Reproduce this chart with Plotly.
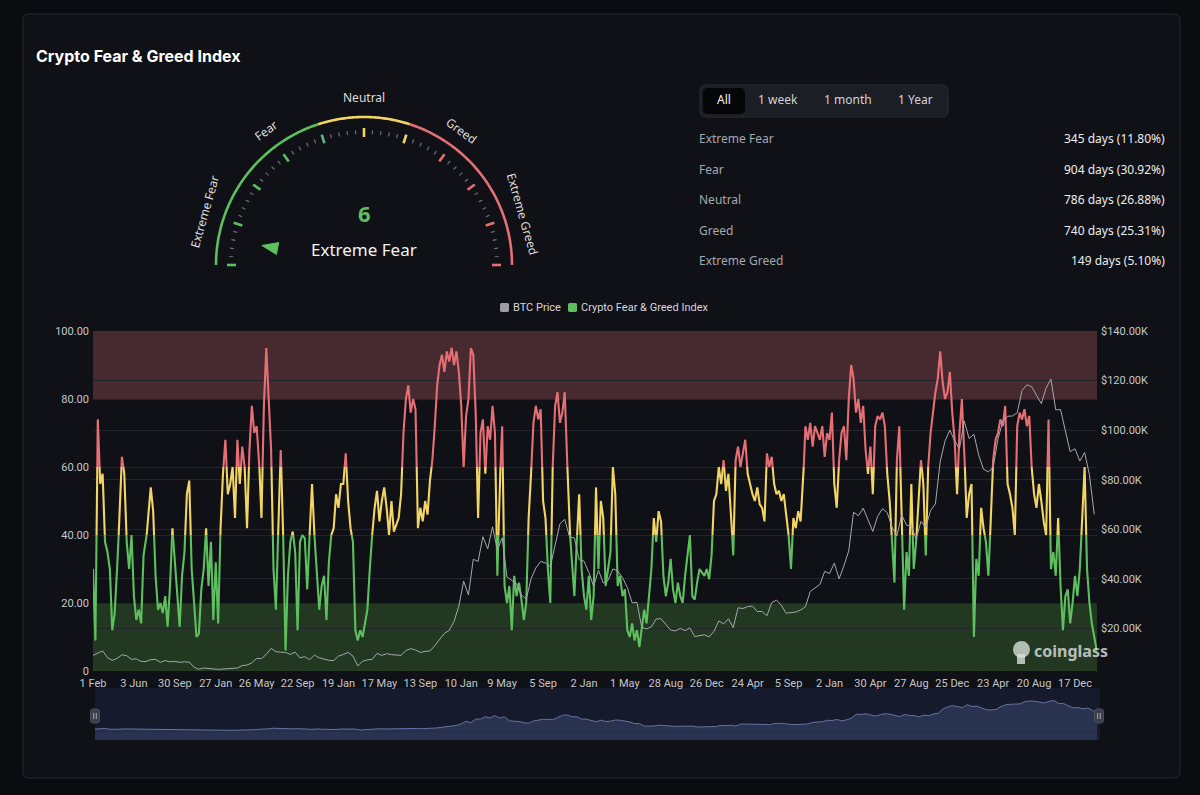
import math
import plotly.graph_objects as go

W, H = 1200, 795
def X(p): return p / W
def Y(p): return 1 - p / H

# ---------------- data ----------------
tick_labels = ['1 Feb', '3 Jun', '30 Sep', '27 Jan', '26 May', '22 Sep', '19 Jan', '17 May',
               '13 Sep', '10 Jan', '9 May', '5 Sep', '2 Jan', '1 May', '28 Aug', '26 Dec',
               '24 Apr', '5 Sep', '2 Jan', '30 Apr', '27 Aug', '25 Dec', '23 Apr', '20 Aug', '17 Dec']
TICK_STEP = 119      # categories (days) between axis labels
N_CAT = 2921         # number of daily categories
FG_STEP = 7          # index sampled weekly
BTC_STEP = 14        # price sampled bi-weekly

fg_values = [
    30, 9, 74, 55, 58, 38, 35, 30, 12, 17,
    30, 45, 63, 58, 38, 30, 40, 22, 15, 18,
    14, 34, 38, 45, 54, 47, 28, 18, 20, 17,
    22, 13, 25, 42, 32, 25, 13, 28, 35, 52,
    56, 30, 20, 10, 11, 24, 30, 42, 25, 38,
    15, 32, 14, 42, 58, 68, 52, 55, 60, 45,
    68, 55, 66, 60, 42, 65, 78, 70, 72, 62,
    45, 78, 95, 82, 65, 30, 18, 42, 65, 40,
    6, 28, 38, 41, 35, 12, 38, 40, 39, 24,
    40, 55, 40, 30, 18, 25, 28, 15, 32, 40,
    42, 52, 48, 55, 55, 64, 50, 42, 38, 12,
    9, 12, 10, 14, 18, 30, 40, 48, 53, 44,
    50, 54, 48, 40, 50, 41, 43, 45, 52, 70,
    80, 84, 76, 80, 77, 42, 48, 44, 50, 46,
    56, 62, 72, 84, 90, 93, 88, 94, 91, 95,
    90, 94, 88, 78, 60, 75, 80, 95, 93, 76,
    45, 70, 74, 58, 72, 68, 78, 70, 28, 55,
    72, 25, 20, 25, 12, 28, 22, 26, 21, 15,
    20, 45, 58, 73, 78, 74, 77, 50, 45, 30,
    20, 60, 78, 82, 73, 76, 82, 62, 42, 33,
    22, 38, 52, 30, 22, 18, 28, 15, 22, 54,
    30, 50, 45, 25, 30, 35, 60, 52, 25, 28,
    22, 24, 12, 10, 14, 9, 12, 7, 12, 18,
    14, 22, 30, 45, 38, 47, 44, 28, 22, 26,
    33, 24, 20, 26, 22, 20, 28, 34, 40, 22,
    21, 26, 30, 29, 28, 30, 27, 34, 50, 52,
    60, 55, 62, 53, 58, 48, 34, 62, 66, 60,
    64, 68, 58, 55, 52, 50, 54, 49, 48, 44,
    64, 60, 63, 55, 52, 53, 50, 52, 46, 40,
    30, 45, 42, 47, 44, 55, 72, 68, 73, 66,
    72, 70, 68, 72, 63, 70, 68, 76, 55, 48,
    62, 70, 72, 62, 80, 90, 86, 76, 80, 73,
    78, 65, 58, 66, 52, 72, 75, 74, 76, 72,
    58, 50, 38, 26, 62, 72, 45, 18, 35, 28,
    55, 30, 38, 50, 62, 55, 34, 60, 70, 76,
    82, 86, 94, 85, 80, 82, 88, 76, 68, 52,
    70, 80, 65, 45, 52, 55, 10, 33, 28, 48,
    42, 38, 28, 44, 62, 68, 70, 74, 72, 78,
    55, 52, 48, 40, 72, 76, 74, 77, 72, 75,
    60, 52, 48, 55, 50, 44, 40, 74, 30, 35,
    28, 45, 25, 12, 22, 24, 14, 20, 28, 22,
    30, 45, 60, 30, 20, 14, 10, 6,
]

btc_prices = [
    # 2018
    9100, 10000, 10900, 8200, 7100, 7900, 9300, 9000, 7500, 7700, 6700, 6600,
    7400, 7500, 6300, 7000, 6500, 6700, 6300, 6500, 6400, 4300, 3500, 4000,
    # 2019
    3800, 3600, 3450, 3600, 3800, 3900, 4000, 5000, 5200, 6100, 7900, 7800, 9500,
    11900, 10600, 10400, 10300, 9500, 10400, 8100, 8600, 7400, 9200, 8100, 7500, 7100,
    # 2020
    7000, 8800, 9500, 10300, 8800, 4900, 6700, 7300, 7500, 9900, 9100, 9800, 9400, 9100,
    9100, 11100, 11800, 11300, 10300, 10700, 10900, 13000, 15600, 18000, 19200, 22800, 29000,
    # 2021
    39000, 33500, 47900, 47000, 57000, 52000, 61000, 51700, 56500, 40700, 39200, 38000, 33500,
    31800, 40000, 44400, 47000, 46400, 44900, 53800, 62200, 64000, 56900, 56500, 47700, 47100,
    # 2022
    42600, 37000, 43500, 38300, 39400, 44000, 43200, 40500, 36500, 30300, 30500, 20400, 19800,
    20600, 23800, 23900, 21500, 19300, 19000, 20000, 19100, 20200, 16700, 17000, 17400, 16600,
    # 2023
    18800, 23000, 21800, 23900, 20300, 28300, 28000, 28800, 29000, 26800, 26800, 25100, 30400,
    31400, 29300, 26100, 26200, 26600, 27400, 28700, 34900, 36200, 37700, 43000, 42100,
    # 2024
    46300, 40000, 45300, 51300, 66900, 65500, 68500, 63500, 59100, 65200, 68300, 66700, 60800,
    57300, 65800, 61700, 61200, 56100, 63200, 60700, 67600, 70200, 87300, 95600, 100000, 95700,
    # 2025
    92500, 103700, 96600, 98300, 89900, 84200, 83200, 84900, 96500, 103500, 105600, 105700, 107000,
    116000, 118300, 117500, 114200, 110700, 117000, 120600, 108200, 108300, 99700, 91300, 92500, 87500,
    # 2026
    91000, 82000, 66000,
]

zone_names = ['Extreme Fear', 'Fear', 'Neutral', 'Greed', 'Extreme Greed']
zone_days = [345, 904, 786, 740, 149]
zone_pct = [11.80, 30.92, 26.88, 25.31, 5.10]
current_value = 6
current_label = 'Extreme Fear'
range_buttons = ['All', '1 week', '1 month', '1 Year']
btc_ticks = [20000, 40000, 60000, 80000, 100000, 120000, 140000]
fg_ticks = [0, 20, 40, 60, 80, 100]

# ---------------- styles ----------------
OUTER_BG = '#0b0c10'
PANEL_BG = '#0f1116'
GREEN = '#5dbf5d'
YELLOW = '#f2d562'
RED = '#e66e75'
GRID = '#22252c'
AXIS_TXT = '#c4c7cd'
FONT = 'Noto Sans'

fg_x = [i * FG_STEP for i in range(len(fg_values))]
btc_x = [j * BTC_STEP for j in range(len(btc_prices))]


def band_path(xs, ys, lo, hi):
    ox, oy, last = [], [], None
    for k in range(len(xs) - 1):
        x0, y0, x1, y1 = xs[k], ys[k], xs[k + 1], ys[k + 1]
        if y0 == y1:
            if lo <= y0 <= hi:
                t0, t1 = 0.0, 1.0
            else:
                continue
        else:
            ta = (lo - y0) / (y1 - y0)
            tb = (hi - y0) / (y1 - y0)
            t0 = max(0.0, min(ta, tb))
            t1 = min(1.0, max(ta, tb))
            if t1 <= t0:
                continue
        pa = (x0 + t0 * (x1 - x0), y0 + t0 * (y1 - y0))
        pb = (x0 + t1 * (x1 - x0), y0 + t1 * (y1 - y0))
        if last is None or abs(last[0] - pa[0]) > 1e-9 or abs(last[1] - pa[1]) > 1e-9:
            if ox:
                ox.append(None)
                oy.append(None)
            ox.append(pa[0])
            oy.append(pa[1])
        ox.append(pb[0])
        oy.append(pb[1])
        last = pb
    return ox, oy


fig = go.Figure()

# BTC price line (right axis)
fig.add_trace(go.Scatter(x=btc_x, y=btc_prices, mode='lines', yaxis='y2',
                         line=dict(color='#a4a7ae', width=1), hoverinfo='skip', showlegend=False))

# Fear & Greed index coloured by band
for lo, hi, col in [(0, 40, GREEN), (40, 60, YELLOW), (60, 100, RED)]:
    bx, by = band_path(fg_x, fg_values, lo, hi)
    fig.add_trace(go.Scatter(x=bx, y=by, mode='lines', line=dict(color=col, width=2.1),
                             connectgaps=False, hoverinfo='skip', showlegend=False))

# navigator
fig.add_trace(go.Scatter(x=btc_x, y=btc_prices, mode='lines', xaxis='x2', yaxis='y3',
                         fill='tozeroy', fillcolor='#29324f',
                         line=dict(color='#6672a3', width=1), hoverinfo='skip', showlegend=False))

shapes = []


def rrect_path(x0, y0, x1, y1, r):
    pts = [('M', x0 + r, y0), ('L', x1 - r, y0), ('Q', x1, y0, x1, y0 + r), ('L', x1, y1 - r),
           ('Q', x1, y1, x1 - r, y1), ('L', x0 + r, y1), ('Q', x0, y1, x0, y1 - r),
           ('L', x0, y0 + r), ('Q', x0, y0, x0 + r, y0)]
    s = ''
    for p in pts:
        c = p[0]
        coords = p[1:]
        s += c + ' ' + ' '.join(f'{X(coords[i]):.5f},{Y(coords[i + 1]):.5f}' for i in range(0, len(coords), 2)) + ' '
    return s + 'Z'


# panel
shapes.append(dict(type='path', xref='paper', yref='paper', layer='below',
                   path=rrect_path(23, 14, 1180, 778, 6), fillcolor=PANEL_BG,
                   line=dict(color='#262930', width=1)))
# navigator background
shapes.append(dict(type='rect', xref='paper', yref='paper', layer='below',
                   x0=X(95), x1=X(1100), y0=Y(740), y1=Y(688), fillcolor='#151b2d', line=dict(width=0)))
# navigator base below price 0
shapes.append(dict(type='rect', xref='x2', yref='y3', layer='below', x0=0, x1=btc_x[-1],
                   y0=-34000, y1=0, fillcolor='#29324f', line=dict(width=0)))
# zone bands
shapes.append(dict(type='rect', xref='x', yref='y', layer='below', x0=0, x1=N_CAT - 1,
                   y0=80, y1=100, fillcolor='#472a30', line=dict(width=0)))
shapes.append(dict(type='rect', xref='x', yref='y', layer='below', x0=0, x1=N_CAT - 1,
                   y0=0, y1=20, fillcolor='#223821', line=dict(width=0)))
shapes.append(dict(type='line', xref='x', yref='y', x0=0, x1=N_CAT - 1, y0=0, y1=0,
                   line=dict(color='#3b4a3b', width=1, dash='dot')))

# navigator handles
for hx in (95, 1099):
    shapes.append(dict(type='path', xref='paper', yref='paper',
                       path=rrect_path(hx - 4.5, 709, hx + 4.5, 723, 2.5),
                       fillcolor='#3a3f4b', line=dict(color='#4a505c', width=1)))
    for dx in (-1.3, 1.3):
        shapes.append(dict(type='line', xref='paper', yref='paper', x0=X(hx + dx), x1=X(hx + dx),
                           y0=Y(713), y1=Y(719), line=dict(color='#a3a8b2', width=1)))

# ---------------- gauge ----------------
CX, CY, R = 364, 265, 148


def gpt(v, r):
    th = math.pi * (1 - v / 100.0)
    return CX + r * math.cos(th), CY - r * math.sin(th)


def arc_path(v0, v1, r, n=60):
    s = ''
    for k in range(n + 1):
        v = v0 + (v1 - v0) * k / n
        px, py = gpt(v, r)
        s += ('M ' if k == 0 else 'L ') + f'{X(px):.5f},{Y(py):.5f} '
    return s


for v0, v1, col in [(0, 40, GREEN), (40, 60, YELLOW), (60, 100, RED)]:
    shapes.append(dict(type='path', xref='paper', yref='paper', path=arc_path(v0, v1, R),
                       line=dict(color=col, width=2.6)))

for v in range(0, 101, 2):
    if v % 10 == 0:
        if v < 40:
            col = GREEN
        elif v == 40:
            col = '#5fb08c'
        elif v <= 60:
            col = YELLOW
        else:
            col = RED
        r0, r1, w = 128, 137, 2.6
    else:
        col, r0, r1, w = '#6c6f77', 131, 135, 1.2
    ax0, ay0 = gpt(v, r0)
    ax1, ay1 = gpt(v, r1)
    shapes.append(dict(type='line', xref='paper', yref='paper', x0=X(ax0), y0=Y(ay0),
                       x1=X(ax1), y1=Y(ay1), line=dict(color=col, width=w)))

# pointer triangle
tip = gpt(current_value, 104)
th = math.pi * (1 - current_value / 100.0)
bx_, by_ = gpt(current_value, 88)
nx, ny = math.sin(th), math.cos(th)
b1 = (bx_ + 6 * nx, by_ + 6 * ny)
b2 = (bx_ - 6 * nx, by_ - 6 * ny)
shapes.append(dict(type='path', xref='paper', yref='paper',
                   path=f'M {X(tip[0]):.5f},{Y(tip[1]):.5f} L {X(b1[0]):.5f},{Y(b1[1]):.5f} '
                        f'L {X(b2[0]):.5f},{Y(b2[1]):.5f} Z',
                   fillcolor=GREEN, line=dict(color=GREEN, width=1)))

# range buttons
shapes.append(dict(type='path', xref='paper', yref='paper', path=rrect_path(700, 85, 948, 117, 6),
                   fillcolor='#1b1e25', line=dict(color='#2a2d35', width=1)))
shapes.append(dict(type='path', xref='paper', yref='paper', path=rrect_path(703, 88, 745, 114, 5),
                   fillcolor='#050608', line=dict(width=0)))

# legend squares
shapes.append(dict(type='path', xref='paper', yref='paper', path=rrect_path(500, 303, 509, 312, 1.5),
                   fillcolor='#9b9ea6', line=dict(width=0)))
shapes.append(dict(type='path', xref='paper', yref='paper', path=rrect_path(568, 303, 577, 312, 1.5),
                   fillcolor=GREEN, line=dict(width=0)))

# watermark logo (rough)
shapes.append(dict(type='circle', xref='paper', yref='paper', x0=X(1013), x1=X(1030), y0=Y(658), y1=Y(641),
                   fillcolor='rgba(215,222,215,0.8)', line=dict(width=0)))
shapes.append(dict(type='rect', xref='paper', yref='paper', x0=X(1017), x1=X(1025), y0=Y(664), y1=Y(654),
                   fillcolor='rgba(215,222,215,0.8)', line=dict(width=0)))

ann = []


def txt(x, y, s, size=12, color='#e6e6e6', anchor='center', angle=0, family=FONT, bold=False):
    ann.append(dict(x=X(x), y=Y(y), xref='paper', yref='paper', text=(f'<b>{s}</b>' if bold else s),
                    showarrow=False, xanchor=anchor, yanchor='middle', textangle=angle,
                    borderpad=0, font=dict(size=size, color=color, family=family)))


txt(35, 56, 'Crypto Fear &amp; Greed Index', size=16, color='#ffffff', anchor='left', family='Inter', bold=True)

# gauge labels
txt(205, 212, 'Extreme Fear', size=12, color='#dcdcdc', angle=-74)
txt(266, 131, 'Fear', size=12, color='#dcdcdc', angle=-36)
txt(364, 98, 'Neutral', size=12, color='#dcdcdc')
txt(461, 131, 'Greed', size=12, color='#dcdcdc', angle=36)
txt(522, 214, 'Extreme Greed', size=12, color='#dcdcdc', angle=74)
txt(364, 213, str(current_value), size=22, color=GREEN, bold=True)
txt(364, 250, current_label, size=17, color='#f2f2f2')

# buttons
for label, bxc in zip(range_buttons, [724, 778, 848, 915]):
    txt(bxc, 100, label, size=12, color='#f0f0f0' if label == 'All' else '#d0d3d8')

# stats
for k, (nm, d, p) in enumerate(zip(zone_names, zone_days, zone_pct)):
    yy = 139 + k * 30.5
    txt(698, yy, nm, size=12, color='#a4a8b0', anchor='left')
    txt(1166, yy, f'{d} days ({p:.2f}%)', size=12, color='#ececec', anchor='right')

# legend text
txt(512, 307.5, 'BTC Price', size=11, color='#d4d6db', anchor='left', family='Roboto')
txt(580, 307.5, 'Crypto Fear &amp; Greed Index', size=11, color='#d4d6db', anchor='left', family='Roboto')

# watermark text
txt(1033, 651, 'coinglass', size=16, color='rgba(225,228,225,0.8)', anchor='left', bold=True)

fig.update_layout(
    width=W, height=H, margin=dict(l=0, r=0, t=0, b=0, pad=0, autoexpand=False), autosize=False,
    paper_bgcolor=OUTER_BG, plot_bgcolor='rgba(0,0,0,0)',
    showlegend=False, shapes=shapes, annotations=ann,
    font=dict(family=FONT, color=AXIS_TXT),
    xaxis=dict(domain=[X(93), X(1097)], range=[0, N_CAT - 1], automargin=False,
               tickvals=[k * TICK_STEP for k in range(len(tick_labels))], ticktext=tick_labels,
               showgrid=False, zeroline=False, showline=False, ticks='', ticklabelstandoff=4,
               tickfont=dict(size=11, color=AXIS_TXT, family='Roboto'), fixedrange=True),
    yaxis=dict(domain=[Y(671), Y(331)], range=[0, 100], tickvals=fg_ticks, automargin=False,
               ticktext=['0' if t == 0 else f'{t:.2f}' for t in fg_ticks],
               showgrid=True, gridcolor=GRID, gridwidth=1, zeroline=False, showline=False, ticks='',
               ticklabelstandoff=3,
               tickfont=dict(size=11, color=AXIS_TXT, family='Roboto')),
    yaxis2=dict(overlaying='y', side='right', range=[2800, 140000], tickvals=btc_ticks, automargin=False,
                ticktext=[f'${t / 1000:.2f}K' for t in btc_ticks],
                showgrid=True, gridcolor=GRID, zeroline=False, showline=False, ticks='',
                ticklabelstandoff=3,
                tickfont=dict(size=11, color=AXIS_TXT, family='Roboto')),
    xaxis2=dict(domain=[X(95), X(1100)], range=[0, N_CAT - 1], visible=False, anchor='y3', automargin=False),
    yaxis3=dict(domain=[Y(740), Y(688)], range=[-34000, 169000], visible=False, anchor='x2', automargin=False),
)

post = """
document.documentElement.style.margin='0';
document.documentElement.style.overflow='hidden';
document.documentElement.style.background='#0b0c10';
document.body.style.margin='0';
document.body.style.overflow='hidden';
document.body.style.background='#0b0c10';
var gds=document.getElementsByClassName('plotly-graph-div');
for(var i=0;i<gds.length;i++){gds[i].style.position='fixed';gds[i].style.left='0px';gds[i].style.top='0px';}
"""
fig.write_html('out.html', config={'displayModeBar': False}, post_script=post)
